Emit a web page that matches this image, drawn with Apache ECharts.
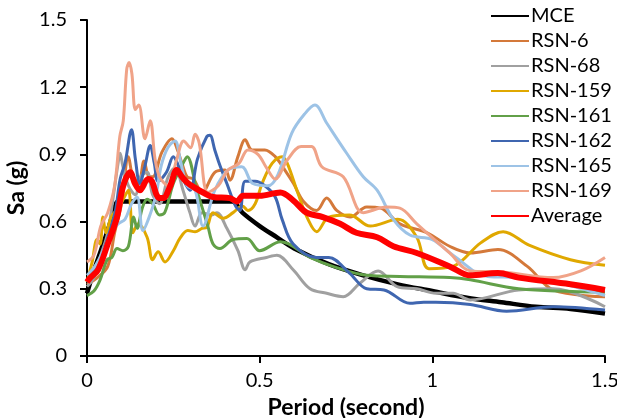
<!DOCTYPE html>
<html>
<head>
<meta charset="utf-8">
<script src="https://cdn.jsdelivr.net/npm/echarts@6/dist/echarts.min.js"></script>
<style>
  html, body { margin: 0; padding: 0; background: #fff; }
  #chart { width: 617px; height: 418px; }
</style>
</head>
<body>
<div id="chart"></div>
<script>
// period (s), Sa (g)
var mce = [[0,0.28],[0.02,0.38],[0.04,0.47],[0.06,0.56],[0.08,0.66],[0.09,0.69],[0.42,0.69],[0.45,0.64],[0.5,0.58],[0.55,0.53],[0.6,0.48],[0.7,0.41],[0.8,0.36],[0.9,0.32],[1.0,0.29],[1.1,0.26],[1.2,0.24],[1.3,0.22],[1.4,0.21],[1.5,0.19]];

var rsn6 = [[0,0.32],[0.03,0.35],[0.06,0.40],[0.08,0.55],[0.1,0.68],[0.12,0.89],[0.133,0.80],[0.15,0.78],[0.165,0.87],[0.18,0.80],[0.19,0.80],[0.217,0.91],[0.246,0.97],[0.262,0.92],[0.275,0.86],[0.29,0.80],[0.308,0.79],[0.333,0.73],[0.37,0.82],[0.4,0.83],[0.414,0.785],[0.437,0.89],[0.458,0.965],[0.478,0.92],[0.515,0.92],[0.545,0.89],[0.573,0.83],[0.598,0.77],[0.627,0.69],[0.665,0.65],[0.694,0.705],[0.723,0.65],[0.762,0.62],[0.81,0.665],[0.85,0.66],[0.906,0.59],[0.985,0.55],[1.05,0.49],[1.11,0.46],[1.19,0.475],[1.275,0.40],[1.35,0.295],[1.5,0.265]];

var rsn68 = [[0,0.31],[0.02,0.35],[0.04,0.45],[0.06,0.55],[0.075,0.70],[0.09,0.86],[0.096,0.905],[0.104,0.845],[0.12,0.76],[0.14,0.72],[0.155,0.80],[0.174,0.82],[0.19,0.72],[0.21,0.68],[0.235,0.80],[0.255,0.84],[0.278,0.74],[0.298,0.64],[0.313,0.58],[0.333,0.64],[0.362,0.63],[0.376,0.64],[0.405,0.57],[0.437,0.47],[0.458,0.385],[0.472,0.42],[0.52,0.44],[0.55,0.45],[0.597,0.385],[0.646,0.30],[0.694,0.28],[0.742,0.265],[0.79,0.325],[0.843,0.38],[0.898,0.31],[0.955,0.30],[1.01,0.28],[1.06,0.28],[1.11,0.25],[1.25,0.295],[1.35,0.30],[1.5,0.22]];

var rsn159 = [[0,0.33],[0.015,0.42],[0.029,0.52],[0.038,0.5],[0.046,0.62],[0.055,0.55],[0.07,0.62],[0.09,0.66],[0.105,0.70],[0.12,0.74],[0.133,0.55],[0.148,0.59],[0.174,0.53],[0.19,0.43],[0.206,0.465],[0.226,0.42],[0.25,0.47],[0.269,0.525],[0.292,0.56],[0.313,0.555],[0.333,0.57],[0.347,0.575],[0.365,0.64],[0.394,0.615],[0.423,0.64],[0.45,0.67],[0.466,0.65],[0.487,0.68],[0.507,0.77],[0.536,0.86],[0.565,0.89],[0.58,0.86],[0.61,0.73],[0.64,0.61],[0.665,0.555],[0.70,0.62],[0.76,0.63],[0.82,0.58],[0.9,0.61],[0.955,0.53],[0.99,0.39],[1.06,0.40],[1.14,0.505],[1.205,0.555],[1.28,0.495],[1.4,0.43],[1.5,0.405]];

var rsn161 = [[0,0.27],[0.02,0.29],[0.038,0.34],[0.058,0.43],[0.072,0.44],[0.087,0.48],[0.104,0.47],[0.12,0.49],[0.135,0.62],[0.145,0.57],[0.16,0.66],[0.174,0.70],[0.19,0.68],[0.21,0.63],[0.225,0.64],[0.25,0.77],[0.278,0.86],[0.29,0.89],[0.318,0.74],[0.336,0.65],[0.35,0.58],[0.365,0.50],[0.385,0.48],[0.423,0.52],[0.463,0.525],[0.5,0.47],[0.56,0.51],[0.646,0.44],[0.712,0.40],[0.81,0.36],[0.906,0.355],[1.05,0.35],[1.11,0.34],[1.25,0.30],[1.5,0.285]];

var rsn162 = [[0,0.33],[0.023,0.38],[0.052,0.49],[0.081,0.64],[0.096,0.79],[0.11,0.86],[0.129,1.01],[0.14,0.88],[0.153,0.77],[0.168,0.85],[0.183,0.94],[0.195,0.86],[0.206,0.78],[0.23,0.82],[0.25,0.89],[0.262,0.86],[0.275,0.80],[0.298,0.74],[0.32,0.88],[0.347,0.98],[0.356,0.985],[0.37,0.92],[0.385,0.85],[0.405,0.77],[0.43,0.67],[0.443,0.65],[0.458,0.78],[0.487,0.78],[0.515,0.76],[0.545,0.71],[0.565,0.61],[0.597,0.50],[0.665,0.44],[0.70,0.44],[0.76,0.37],[0.81,0.30],[0.86,0.295],[0.935,0.235],[0.975,0.24],[1.01,0.24],[1.11,0.23],[1.215,0.20],[1.35,0.22],[1.5,0.205]];

var rsn165 = [[0,0.36],[0.023,0.40],[0.05,0.48],[0.07,0.55],[0.09,0.59],[0.11,0.61],[0.129,0.68],[0.145,0.71],[0.162,0.56],[0.18,0.62],[0.2,0.72],[0.215,0.85],[0.234,0.93],[0.255,0.96],[0.27,0.875],[0.29,0.76],[0.313,0.74],[0.336,0.58],[0.37,0.74],[0.408,0.83],[0.448,0.845],[0.48,0.77],[0.524,0.76],[0.553,0.81],[0.593,0.995],[0.63,1.08],[0.66,1.12],[0.694,1.04],[0.752,0.905],[0.80,0.80],[0.84,0.74],[0.887,0.61],[0.935,0.54],[1.0,0.52],[1.06,0.45],[1.16,0.355],[1.25,0.35],[1.37,0.325],[1.5,0.27]];

var rsn169 = [[0,0.42],[0.02,0.45],[0.04,0.58],[0.06,0.64],[0.08,0.76],[0.095,0.98],[0.105,1.05],[0.115,1.28],[0.122,1.31],[0.13,1.26],[0.14,1.10],[0.15,1.12],[0.168,0.97],[0.183,1.05],[0.197,0.88],[0.21,0.80],[0.235,0.76],[0.26,0.88],[0.28,0.96],[0.3,0.93],[0.313,0.99],[0.325,0.95],[0.35,0.73],[0.38,0.76],[0.408,0.83],[0.44,0.86],[0.466,0.92],[0.495,0.90],[0.52,0.84],[0.545,0.79],[0.58,0.875],[0.62,0.935],[0.65,0.935],[0.68,0.845],[0.742,0.80],[0.8,0.64],[0.868,0.665],[0.906,0.66],[0.955,0.59],[1.05,0.46],[1.11,0.38],[1.205,0.375],[1.35,0.35],[1.43,0.38],[1.5,0.44]];

var average = [[0,0.33],[0.01,0.35],[0.032,0.385],[0.06,0.50],[0.087,0.62],[0.104,0.755],[0.125,0.82],[0.139,0.77],[0.153,0.74],[0.177,0.79],[0.188,0.78],[0.205,0.71],[0.22,0.705],[0.24,0.755],[0.26,0.83],[0.275,0.80],[0.29,0.775],[0.308,0.755],[0.336,0.73],[0.365,0.71],[0.414,0.705],[0.434,0.69],[0.452,0.715],[0.5,0.715],[0.56,0.73],[0.597,0.695],[0.636,0.64],[0.683,0.62],[0.733,0.59],[0.78,0.55],[0.84,0.53],[0.887,0.49],[0.955,0.46],[1.05,0.40],[1.11,0.36],[1.19,0.37],[1.25,0.35],[1.4,0.32],[1.5,0.295]];

var seriesNames = ['MCE', 'RSN-6', 'RSN-68', 'RSN-159', 'RSN-161', 'RSN-162', 'RSN-165', 'RSN-169', 'Average'];
var seriesData = [mce, rsn6, rsn68, rsn159, rsn161, rsn162, rsn165, rsn169, average];
var colors = ['#000000', '#D4793A', '#A0A0A0', '#E0A800', '#62A048', '#3F66B0', '#9DC3E6', '#F0A388', '#FF0000'];
var widths = [4.5, 3, 3, 3, 3, 3, 3, 3, 6];

var font = 'Lato, "Open Sans", sans-serif';

var chart = echarts.init(document.getElementById('chart'), null, { renderer: 'canvas' });

var series = [];
for (var i = 0; i < seriesNames.length; i++) {
    series.push({
        name: seriesNames[i],
        type: 'line',
        data: seriesData[i],
        symbol: 'none',
        smooth: 0.35,
        animation: false,
        lineStyle: { color: colors[i], width: widths[i] },
        itemStyle: { color: colors[i] }
    });
}

chart.setOption({
    animation: false,
    // fixed plot box, do not let labels shrink it
    grid: { left: 87, right: 12, top: 20, bottom: 62, outerBoundsMode: 'none' },
    legend: {
        orient: 'vertical',
        left: 485,
        top: 1,
        itemWidth: 38,
        itemHeight: 20,
        itemGap: 5,
        data: seriesNames,
        // line only, no marker in the legend
        itemStyle: { opacity: 0 },
        textStyle: { fontFamily: font, fontSize: 20, color: '#000', padding: [0, 0, 0, -3] }
    },
    xAxis: {
        type: 'value',
        min: 0, max: 1.5, interval: 0.5,
        name: 'Period (second)',
        nameLocation: 'middle',
        nameGap: 33,
        nameTextStyle: { fontFamily: font, fontSize: 23, fontWeight: 'bold', color: '#000' },
        axisLine: { lineStyle: { color: '#000', width: 2 } },
        axisTick: { show: true, inside: false, length: 7, lineStyle: { color: '#000', width: 2 } },
        axisLabel: { fontFamily: font, fontSize: 20, color: '#000', margin: 15 },
        splitLine: { show: false }
    },
    yAxis: {
        type: 'value',
        min: 0, max: 1.5, interval: 0.3,
        name: 'Sa (g)',
        nameLocation: 'middle',
        nameGap: 53,
        nameTextStyle: { fontFamily: font, fontSize: 23, fontWeight: 'bold', color: '#000' },
        axisLine: { show: true, lineStyle: { color: '#000', width: 2 } },
        axisTick: { show: true, inside: false, length: 7, lineStyle: { color: '#000', width: 2 } },
        axisLabel: { fontFamily: font, fontSize: 20, color: '#000', margin: 20 },
        splitLine: { show: false }
    },
    series: series
});
</script>
</body>
</html>
